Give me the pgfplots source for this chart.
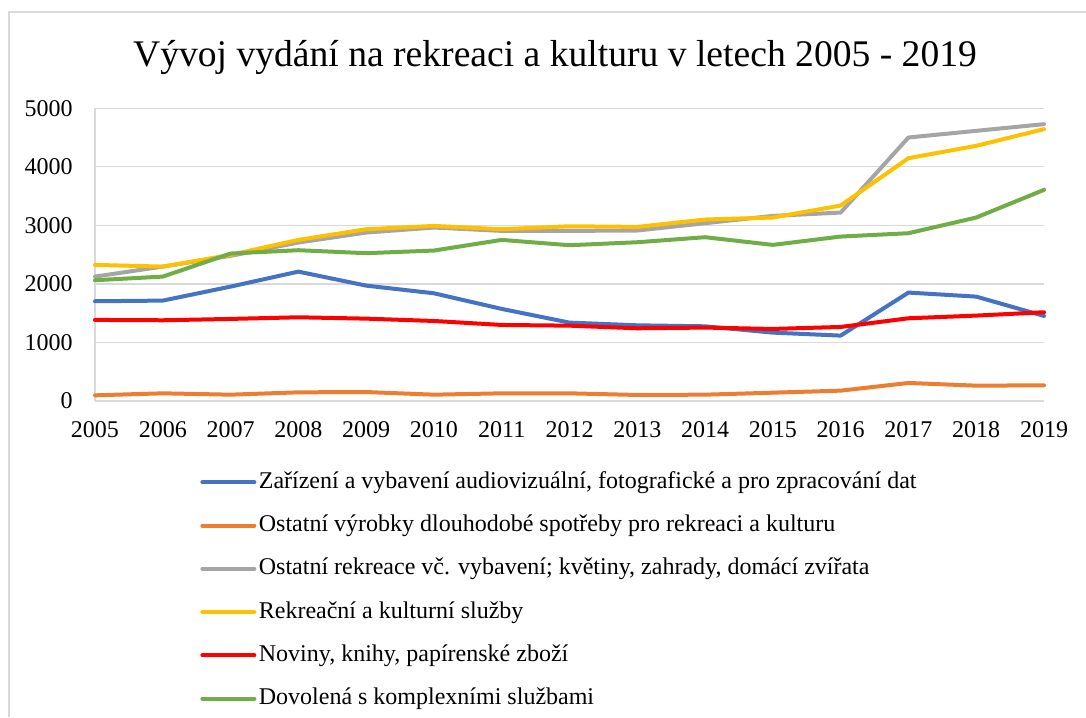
\documentclass[border=0pt]{standalone}
\usepackage{pgfplots}
\pgfplotsset{compat=1.18}
\usepackage{pgfplotstable}
\usepackage{fontspec}
\setmainfont{Liberation Serif}
\definecolor{cblue}{HTML}{4472C4}
\definecolor{corange}{HTML}{ED7D31}
\definecolor{cgray}{HTML}{A5A5A5}
\definecolor{cyellow}{HTML}{FFC000}
\definecolor{cred}{HTML}{FF0000}
\definecolor{cgreen}{HTML}{70AD47}
\definecolor{gridc}{HTML}{D9D9D9}
\pgfplotstableread{
year blue orange gray yellow red green
2005 1704 97 2125 2325 1385 2063
2006 1715 131 2296 2296 1379 2125
2007 1954 108 2479 2496 1402 2519
2008 2210 148 2707 2752 1430 2576
2009 1971 153 2877 2934 1407 2525
2010 1840 108 2963 2991 1367 2570
2011 1573 131 2906 2934 1299 2752
2012 1339 131 2906 2985 1287 2661
2013 1293 103 2912 2974 1242 2712
2014 1276 108 3037 3100 1254 2798
2015 1168 142 3162 3134 1231 2667
2016 1117 177 3219 3339 1265 2809
2017 1852 308 4501 4148 1413 2866
2018 1783 262 4615 4359 1459 3134
2019 1453 268 4729 4644 1516 3607
}\datatable
\begin{document}
\begin{tikzpicture}
\useasboundingbox (0,0) rectangle (543pt,358.5pt);
\draw[gridc, line width=0.6pt] (4.5pt,0pt) -- (4.5pt,352.5pt) -- (543pt,352.5pt);
\node[anchor=base, inner sep=0pt, font=\fontsize{18.8}{22}\selectfont] at (277.5pt,325.2pt) {Vývoj vydání na rekreaci a kulturu v letech 2005 - 2019};
\begin{axis}[
  at={(47.5pt,158pt)}, anchor=south west,
  scale only axis, width=474.5pt, height=146.35pt,
  xmin=2005, xmax=2019, ymin=0, ymax=5000,
  xtick={2005,2006,...,2019}, ytick={0,1000,...,5000},
  /pgf/number format/1000 sep={},
  /pgf/number format/assume math mode=true,
  scaled ticks=false,
  major tick length=0pt,
  axis x line*=bottom, axis y line*=left,
  axis line style={draw=gridc, line width=0.65pt, -},
  ymajorgrids, grid style={draw=gridc, line width=0.65pt},
  tick label style={font=\fontsize{12}{14}\selectfont},
  yticklabel style={anchor=east, inner sep=0pt, xshift=-11pt},
  xticklabel style={anchor=north, inner sep=0pt, yshift=-10.3pt},
  clip=false,
  every axis plot/.append style={line width=2pt, line join=round, line cap=round},
  legend cell align=left,
  legend image code/.code={\draw[#1] (0pt,0pt) -- (26pt,0pt);},
  legend style={draw=none, fill=none, inner sep=0pt, anchor=north west,
    at={(rel axis cs:0.1106,-0.2300)},
    font=\fontsize{12}{14}\selectfont,
    nodes={inner sep=1.25pt, text height=8.5pt, text depth=2.5pt},
    row sep=8.15pt, column sep=0pt},
]
\addplot[cblue] table[x=year,y=blue] {\datatable};
\addlegendentry{Zařízení a vybavení audiovizuální, fotografické a pro zpracování dat}
\addplot[corange] table[x=year,y=orange] {\datatable};
\addlegendentry{Ostatní výrobky dlouhodobé spotřeby pro rekreaci a kulturu}
\addplot[cgray] table[x=year,y=gray] {\datatable};
\addlegendentry{Ostatní rekreace vč. vybavení; květiny, zahrady, domácí zvířata}
\addplot[cyellow] table[x=year,y=yellow] {\datatable};
\addlegendentry{Rekreační a kulturní služby}
\addplot[cred] table[x=year,y=red] {\datatable};
\addlegendentry{Noviny, knihy, papírenské zboží}
\addplot[cgreen] table[x=year,y=green] {\datatable};
\addlegendentry{Dovolená s komplexními službami}
\end{axis}
\end{tikzpicture}
\end{document}
